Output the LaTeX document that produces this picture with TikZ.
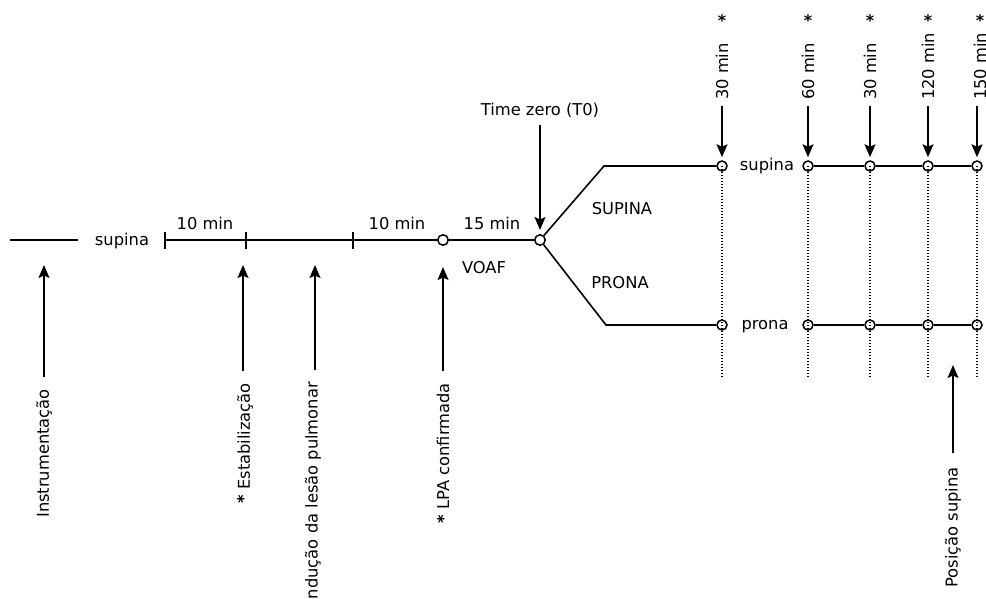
\documentclass[tikz,border=0pt]{standalone}
\usepackage{fontspec}
\setmainfont{DejaVu Sans}
\usetikzlibrary{arrows.meta}
\begin{document}
\begin{tikzpicture}[x=1pt,y=-1pt,
  every node/.style={font=\fontsize{16.3}{18}\selectfont, inner sep=0pt},
  ln/.style={line width=1.6pt},
  arr/.style={line width=1.6pt,-{Stealth[length=13pt,width=11pt,inset=2.5pt]}},
  dots/.style={line width=1.4pt,dash pattern=on 1.4pt off 1.6pt},
  ring/.style={circle,draw,line width=1.5pt,minimum size=10.5pt},
  sring/.style={circle,draw,line width=1.5pt,minimum size=10pt},
  vlab/.style={rotate=90},
  star/.style={font=\bfseries\fontsize{16}{18}\selectfont}]
\clip (0,0) rectangle (986,599);

% main time line
\coordinate (s0) at (10,240);
\coordinate (s1) at (78,240);
\node (sup0) at (122,241) {supina};
\coordinate (t1) at (165,240);
\coordinate (t2) at (246,240);
\coordinate (t3) at (353,240);
\node[ring] (c1) at (443,240) {};
\node[ring] (c2) at (540,240) {};
\draw[ln] (s0) -- (s1);
\draw[ln] (t1) -- (c1) -- (c2);
\foreach \t in {t1,t2,t3}
  \draw[ln] ([yshift=-8.5pt]\t) -- ([yshift=8.5pt]\t);

\node (m1) at (205,223) {10 min};
\node (m2) at (397,223) {10 min};
\node (m3) at (492,223) {15 min};
\node (voaf) at (484,268) {VOAF};

% branches
\coordinate (bu) at (604,166);
\coordinate (bd) at (606,325);
\node (bsup) at (622,209) {SUPINA};
\node (bpro) at (620,283) {PRONA};

% measurement points
\foreach \i/\x in {1/722,2/808,3/870,4/928,5/977} {
  \coordinate (d\i) at (\x,378);
  \node[sring] (u\i) at (\x,166) {};
  \node[sring] (l\i) at (\x,325) {};
  \draw[dots] (u\i.center) -- (d\i);
}
\draw[ln] (c2) -- (bu) -- (u1);
\draw[ln] (c2) -- (bd) -- (l1);
\draw[ln] (u2) -- (u3) -- (u4) -- (u5);
\draw[ln] (l2) -- (l3) -- (l4) -- (l5);
\node (sup1) at (767,166) {supina};
\node (pro1) at (765,327) {prona};

% time labels above the points
\foreach \i/\x/\lab in {1/722/30 min,2/808/60 min,3/870/30 min,4/928/120 min,5/980/150 min} {
  \node[vlab,anchor=west] (h\i) at (\x,100) {\lab};
  \node[star] (st\i) at (\x,21) {*};
  \draw[arr,shorten <=6pt,shorten >=3pt] (h\i.west -| u\i) -- (u\i.north);
}

% T0
\node (tz) at (540,110) {Time zero (T0)};
\draw[arr,shorten <=8pt,shorten >=4pt] (tz.south) -- (c2.north);

% event labels below the line
\node[vlab,anchor=east] (ev1) at (44,389) {Instrumentação};
\node[vlab,anchor=east] (ev2) at (245,383) {{\bfseries *} Estabilização};
\node[vlab,anchor=east] (ev3) at (313,382) {Indução da lesão pulmonar};
\node[vlab,anchor=east] (ev4) at (443,383) {{\bfseries *} LPA confirmada};
\node[vlab,anchor=east] (ev5) at (953,467) {Posição supina};
\coordinate (p1) at (44,265);
\coordinate (p2) at (243,265);
\coordinate (p3) at (315,265);
\coordinate (p5) at (953,365);
\draw[arr,shorten <=12pt] (ev1.east) -- (p1);
\draw[arr,shorten <=12pt] (ev2.east -| p2) -- (p2);
\draw[arr,shorten <=12pt] (ev3.east -| p3) -- (p3);
\draw[arr,shorten <=12pt,shorten >=21pt] (ev4.east) -- (c1.south);
\draw[arr,shorten <=14pt] (ev5.east) -- (p5);
\end{tikzpicture}
\end{document}
